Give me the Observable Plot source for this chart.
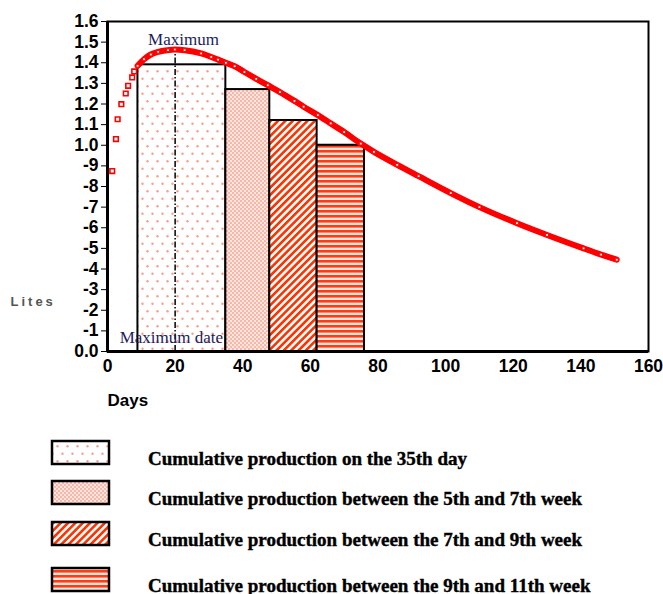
<!DOCTYPE html>
<html><head><meta charset="utf-8">
<script src="https://cdn.jsdelivr.net/npm/d3@7"></script>
<script src="https://cdn.jsdelivr.net/npm/@observablehq/plot@0.6"></script>
<style>
html,body{margin:0;padding:0;background:#fff;overflow:hidden;width:663px;height:594px;}
#chart svg,#legend svg{display:block;}
</style></head><body>
<svg width="0" height="0" style="position:absolute;left:0;top:0">
  <defs>
    <pattern id="pat-dots" patternUnits="userSpaceOnUse" width="10" height="15">
      <rect width="10" height="15" fill="#fff"/>
      <circle cx="2.5" cy="3.75" r="1.2" fill="#f7a08c"/>
      <circle cx="7.5" cy="11.25" r="1.2" fill="#f7a08c"/>
    </pattern>
    <pattern id="pat-fine" patternUnits="userSpaceOnUse" width="4" height="4">
      <rect width="4" height="4" fill="#fde6df"/>
      <circle cx="1" cy="1" r="0.95" fill="#f8a290"/>
      <circle cx="3" cy="3" r="0.95" fill="#f8a290"/>
    </pattern>
    <pattern id="pat-diag" patternUnits="userSpaceOnUse" width="5.2" height="5.2" patternTransform="rotate(45)">
      <rect width="5.2" height="5.2" fill="#fff"/>
      <rect width="2.6" height="5.2" fill="#ff3300"/>
    </pattern>
    <pattern id="pat-horiz" patternUnits="userSpaceOnUse" width="10" height="5">
      <rect width="10" height="5" fill="#ffe6de"/>
      <rect width="10" height="2.6" fill="#ff3b14"/>
    </pattern>
  </defs>
</svg>
<div id="chart"></div>
<div id="legend"></div>
<script>
// ---- data ----
const barLabels = [
  "Cumulative production on the 35th day",
  "Cumulative production between the 5th and 7th week",
  "Cumulative production between the 7th and 9th week",
  "Cumulative production between the 9th and 11th week"
];
const barStartDay = [9, 35, 48, 62];
const barEndDay = [35, 48, 62, 76];
const barLitres = [1.39, 1.27, 1.12, 1.00];

const curveDays = [1.4, 2.5, 3.0, 4.1, 5.4, 6.1, 7.3, 7.9, 8.9, 10.8, 12.8, 15, 17.9, 19.9, 22.8, 27.7, 30.7, 32.7, 35, 37.6, 40.5, 44, 47.4, 51, 55.3, 58, 62.2, 66, 70, 74.9, 78.8, 85.7, 92, 101.5, 110, 121.1, 130, 140.8, 146, 150.6];
const curveLitres = [0.875, 1.03, 1.126, 1.199, 1.251, 1.288, 1.329, 1.358, 1.385, 1.417, 1.44, 1.453, 1.461, 1.464, 1.461, 1.445, 1.428, 1.415, 1.40, 1.383, 1.355, 1.322, 1.291, 1.258, 1.215, 1.187, 1.146, 1.106, 1.064, 1.008, 0.968, 0.905, 0.85, 0.768, 0.70, 0.622, 0.565, 0.50, 0.47, 0.445];

const maxDay = 20;
const maxLitres = 1.464;

const xTicks = [0, 20, 40, 60, 80, 100, 120, 140, 160];
const yTicks = [0, 0.1, 0.2, 0.3, 0.4, 0.5, 0.6, 0.7, 0.8, 0.9, 1.0, 1.1, 1.2, 1.3, 1.4, 1.5, 1.6];
const yTickLabels = ["0.0", "-1", "-2", "-3", "-4", "-5", "-6", "-7", "-8", "-9", "1.0", "1.1", "1.2", "1.3", "1.4", "1.5", "1.6"];

const xLabel = "Days";
const yLabel = "Lites";
const peakLabel = "Maximum";
const peakDateLabel = "Maximum date";

// ---- styles ----
const barFills = ["url(#pat-dots)", "url(#pat-fine)", "url(#pat-diag)", "url(#pat-horiz)"];
const red = "#ff0000";

const bars = barLabels.map((label, i) => ({label, x1: barStartDay[i], x2: barEndDay[i], y: barLitres[i]}));
const curve = curveDays.map((d, i) => ({day: d, litres: curveLitres[i]}));

const plot = Plot.plot({
  width: 663,
  height: 420,
  marginLeft: 107,
  marginRight: 15,
  marginTop: 21,
  marginBottom: 69,
  style: {fontFamily: "'Liberation Sans', Arial, sans-serif", fontSize: "17.5px", fontWeight: "bold", color: "black", background: "white", overflow: "visible"},
  x: {domain: [0, 160], ticks: xTicks, tickSize: 0, tickPadding: 8, label: null},
  y: {domain: [0, 1.6], ticks: yTicks, tickSize: 6, tickPadding: 3, label: null,
      tickFormat: d => yTickLabels[yTicks.findIndex(t => Math.abs(t - d) < 1e-9)]},
  marks: [
    ...bars.map((b, i) => Plot.rect([b], {x1: "x1", x2: "x2", y1: 0, y2: "y", fill: barFills[i], stroke: "black", strokeWidth: 2})),
    Plot.ruleX([maxDay], {y1: 0, y2: maxLitres, stroke: "black", strokeWidth: 1.5, strokeDasharray: "6,2,1.5,2"}),
    Plot.line(curve.filter(d => d.day >= 8.5), {x: "day", y: "litres", stroke: red, strokeWidth: 6, curve: "monotone-x"}),
    Plot.dot(curve.filter(d => d.day < 8.5), {x: "day", y: "litres", symbol: "square", r: 2.6, stroke: red, strokeWidth: 1.6, fill: "white"}),
    Plot.dot(curve.filter(d => d.day >= 8.5), {x: "day", y: "litres", symbol: "square", r: 1.6, stroke: red, strokeWidth: 1, fill: "white"}),
    Plot.text([peakLabel], {x: 12, y: 1.513, text: d => d, textAnchor: "start", fontFamily: "'Liberation Serif', 'Times New Roman', serif", fontSize: 17, fontWeight: "normal", fill: "#1c1c5e"}),
    Plot.text([peakDateLabel], {x: 3.6, y: 0.068, text: d => d, textAnchor: "start", fontFamily: "'Liberation Serif', 'Times New Roman', serif", fontSize: 17, fontWeight: "normal", fill: "#1c1c5e"}),
    Plot.ruleX([0], {stroke: "black", strokeWidth: 3}),
    Plot.ruleY([0], {stroke: "black", strokeWidth: 3}),
    Plot.frame({stroke: "black", strokeWidth: 2}),
    Plot.text([xLabel], {frameAnchor: "bottom-left", dx: 0, dy: 54, text: d => d, textAnchor: "start", fontSize: 17, fontWeight: "bold", fill: "black"}),
    Plot.text([yLabel], {frameAnchor: "left", dx: -97, dy: 115, text: d => d, textAnchor: "start", fontSize: 13, fontWeight: "bold", fill: "#555"})
  ]
});
d3.select(plot).selectAll("text").filter(function() { return this.textContent === yLabel; }).attr("letter-spacing", 3);
document.getElementById("chart").appendChild(plot);

// ---- legend ----
const rowTops = [21, 61, 102, 148];
const leg = d3.select("#legend").append("svg").attr("width", 663).attr("height", 174);
barLabels.forEach((label, i) => {
  leg.append("rect").attr("x", 52).attr("y", rowTops[i]).attr("width", 57).attr("height", 23)
    .attr("fill", barFills[i]).attr("stroke", "black").attr("stroke-width", 2.5);
  leg.append("text").attr("x", 148).attr("y", rowTops[i] + 23.5)
    .attr("font-family", "'Liberation Serif', 'Times New Roman', serif")
    .attr("font-size", 19).attr("font-weight", "bold").attr("fill", "black")
    .attr("stroke", "black").attr("stroke-width", 0.4)
    .text(label);
});
</script>
</body></html>
